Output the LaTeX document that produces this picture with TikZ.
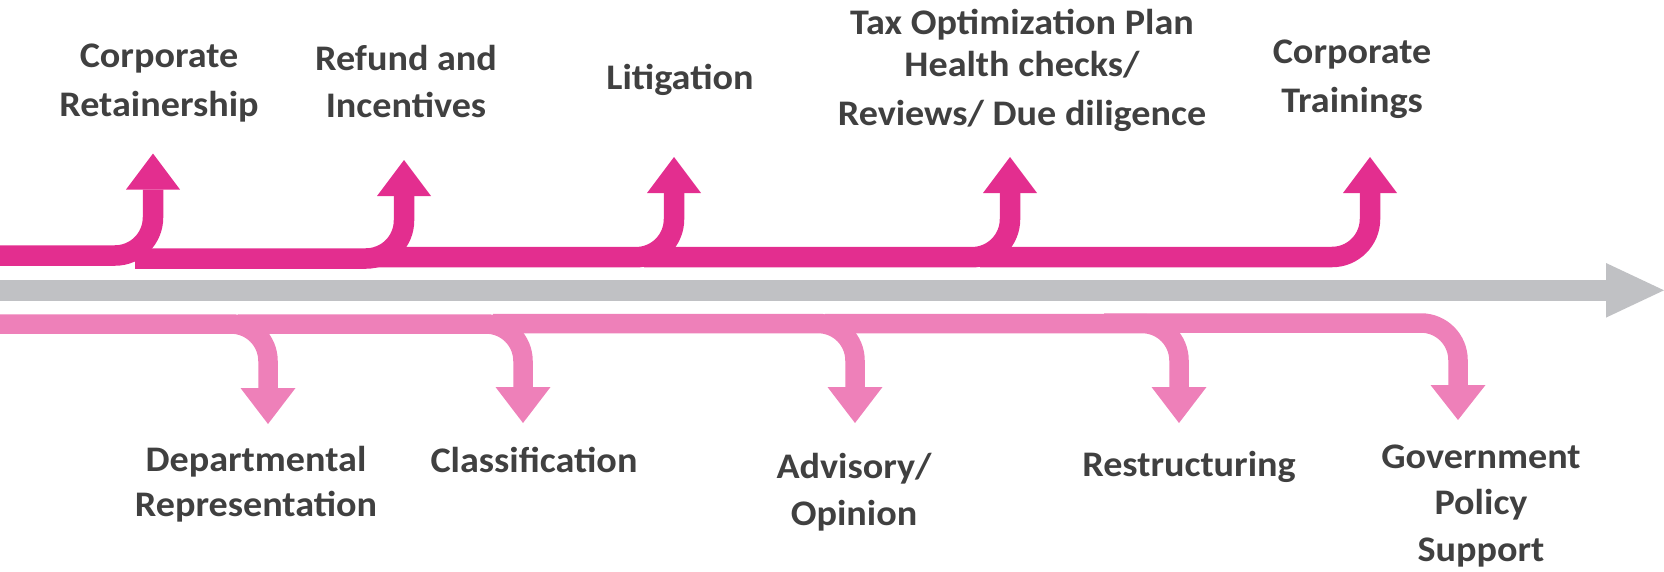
\documentclass[tikz,border=0pt]{standalone}
\usepackage{fontspec}
\setmainfont{Carlito}[FakeStretch=1.06]
\usepackage{tikz}
\usetikzlibrary{
    calc,
    positioning
}

\definecolor{upPink}{RGB}{227,46,143}
\definecolor{downPink}{RGB}{238,128,185}
\definecolor{axisGray}{RGB}{192,193,196}
\definecolor{labelGray}{RGB}{64,64,64}

\begin{document}
\begin{tikzpicture}[
    x=1pt, y=-1pt,
    tasklabel/.style={
      align=center,
      inner sep=0pt,
      text=labelGray,
      font=\fontsize{36}{45}\selectfont\bfseries
    },
    upband/.style={draw=upPink, line width=20.5pt, rounded corners=38pt},
    downband/.style={draw=downPink, line width=19.5pt, rounded corners=37pt},
    uphead/.style={fill=upPink},
    downhead/.style={fill=downPink}
  ]

  \useasboundingbox (0,0) rectangle (1664,571);

  % time line {{{
  \coordinate (gs) at (0,290.3);
  \coordinate (gb) at (1606,290.3);
  \coordinate (gt) at (1664,290.3);
  \draw[draw=axisGray, line width=20.7pt] (gs) -- (gb);
  \fill[axisGray] (gt) -- ($(gb)+(0,-27.3)$) -- ($(gb)+(0,27.3)$) -- cycle;
  % }}}

  % 1. corporate retainership {{{
  \coordinate (us1) at (0,255.5);
  \coordinate (ub1) at (153,189.5);
  \coordinate (ut1) at (153,153.5);
  \draw[upband] (us1) -| (ub1);
  \fill[uphead] (ut1) -- ($(ub1)+(-27,0)$) -- ($(ub1)+(27,0)$) -- cycle;
  \node[tasklabel] (retainer) at (159,83) {Corporate\\[4pt]Retainership};
  % }}}
  % 2. refund and incentives {{{
  \coordinate (us2) at (135,258.5);
  \coordinate (ub2) at (404,196);
  \coordinate (ut2) at (404,160);
  \draw[upband] (us2) -| (ub2);
  \fill[uphead] (ut2) -- ($(ub2)+(-27,0)$) -- ($(ub2)+(27,0)$) -- cycle;
  \node[tasklabel] (refund) at (406,81) {Refund and\\[2pt]Incentives};
  % }}}
  % 3. litigation {{{
  \coordinate (us3) at (374,257.2);
  \coordinate (ub3) at (674,193);
  \coordinate (ut3) at (674,157);
  \draw[upband] (us3) -| (ub3);
  \fill[uphead] (ut3) -- ($(ub3)+(-27,0)$) -- ($(ub3)+(27,0)$) -- cycle;
  \node[tasklabel] (litig) at (680,80) {Litigation};
  % }}}
  % 4. tax optimization plan {{{
  \coordinate (us4) at (644,257.2);
  \coordinate (ub4) at (1010,193);
  \coordinate (ut4) at (1010,157);
  \draw[upband] (us4) -| (ub4);
  \fill[uphead] (ut4) -- ($(ub4)+(-27,0)$) -- ($(ub4)+(27,0)$) -- cycle;
  \node[tasklabel] (taxplan) at (1022,70)
    {Tax Optimization Plan\\[-2.5pt]Health checks/\\[3.5pt]Reviews/ Due diligence};
  % }}}
  % 5. corporate trainings {{{
  \coordinate (us5) at (980,257);
  \coordinate (ub5) at (1370,193);
  \coordinate (ut5) at (1370,157);
  \draw[upband] (us5) -| (ub5);
  \fill[uphead] (ut5) -- ($(ub5)+(-27,0)$) -- ($(ub5)+(27,0)$) -- cycle;
  \node[tasklabel] (trainings) at (1352,79) {Corporate\\[4pt]Trainings};
  % }}}

  % 6. departmental representation {{{
  \coordinate (ds1) at (0,324);
  \coordinate (db1) at (268,388);
  \coordinate (dt1) at (268,424);
  \draw[downband] (ds1) -| (db1);
  \fill[downhead] (dt1) -- ($(db1)+(-27.5,0)$) -- ($(db1)+(27.5,0)$) -- cycle;
  \node[tasklabel] (deptrep) at (256,484.5) {Departmental\\Representation};
  % }}}
  % 7. classification {{{
  \coordinate (ds2) at (238,324);
  \coordinate (db2) at (523,387);
  \coordinate (dt2) at (523,423);
  \draw[downband] (ds2) -| (db2);
  \fill[downhead] (dt2) -- ($(db2)+(-27.5,0)$) -- ($(db2)+(27.5,0)$) -- cycle;
  \node[tasklabel] (classif) at (534,459.5) {Classification};
  % }}}
  % 8. advisory / opinion {{{
  \coordinate (ds3) at (493,323.5);
  \coordinate (db3) at (855,387);
  \coordinate (dt3) at (855,423);
  \draw[downband] (ds3) -| (db3);
  \fill[downhead] (dt3) -- ($(db3)+(-27.5,0)$) -- ($(db3)+(27.5,0)$) -- cycle;
  \node[tasklabel] (advisory) at (854,492) {Advisory/\\[2pt]Opinion};
  % }}}
  % 9. restructuring {{{
  \coordinate (ds4) at (825,323.5);
  \coordinate (db4) at (1179,387);
  \coordinate (dt4) at (1179,423);
  \draw[downband] (ds4) -| (db4);
  \fill[downhead] (dt4) -- ($(db4)+(-27.5,0)$) -- ($(db4)+(27.5,0)$) -- cycle;
  \node[tasklabel] (restruct) at (1189,466.5) {Restructuring};
  % }}}
  % 10. government policy support {{{
  \coordinate (ds5) at (1104,323);
  \coordinate (db5) at (1458,385);
  \coordinate (dt5) at (1458,420);
  \draw[downband] (ds5) -| (db5);
  \fill[downhead] (dt5) -- ($(db5)+(-27.5,0)$) -- ($(db5)+(27.5,0)$) -- cycle;
  \node[tasklabel] (govpolicy) at (1481,506) {Government\\[1.5pt]Policy\\[1.5pt]Support};
  % }}}

\end{tikzpicture}
\end{document}
